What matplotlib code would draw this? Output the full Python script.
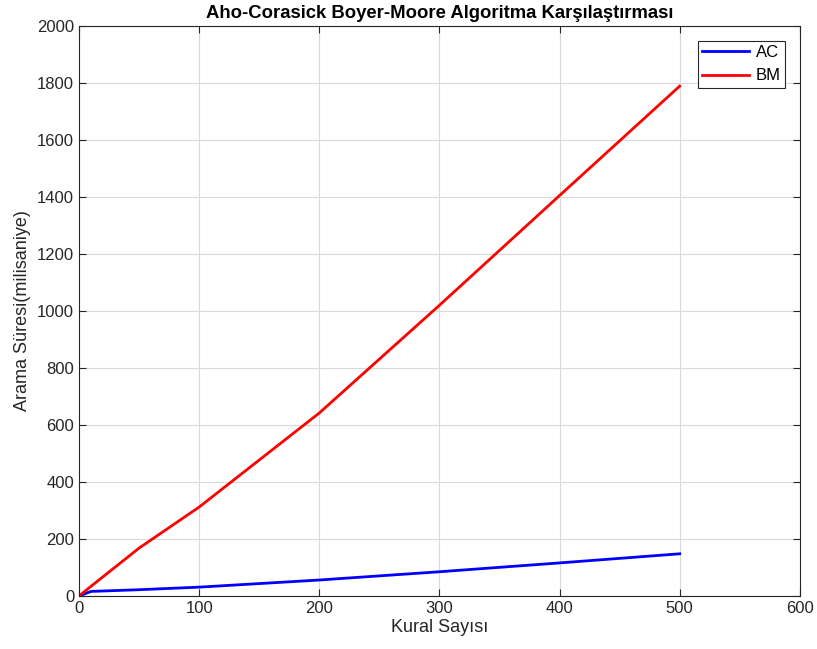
import numpy as np
import matplotlib.pyplot as plt

plt.rcParams['font.family'] = ['Liberation Sans', 'DejaVu Sans']

kural = [0, 10, 50, 100, 200, 300, 400, 500]
ac = [0, 16, 22, 31, 56, 85, 116, 148]
bm = [0, 34, 168, 312, 642, 1020, 1405, 1789]

fig = plt.figure(figsize=(8.17, 6.49), dpi=100)
ax = fig.add_axes([0.0967, 0.0817, 0.8823, 0.8783])

ax.plot(kural, ac, color='blue', linewidth=2, label='AC')
ax.plot(kural, bm, color='red', linewidth=2, label='BM')

ax.set_xlim(0, 600)
ax.set_ylim(0, 2000)
ax.set_xticks(np.arange(0, 601, 100))
ax.set_yticks(np.arange(0, 2001, 200))
ax.grid(True, color='#d9d9d9', linewidth=0.8)
ax.set_axisbelow(True)
ax.tick_params(direction='in', top=True, right=True, labelsize=12, colors='#262626', length=5)
for s in ax.spines.values():
    s.set_color('#262626')
    s.set_linewidth(0.8)

ax.set_xlabel('Kural Sayısı', fontsize=13, color='#262626', labelpad=2)
ax.set_ylabel('Arama Süresi(milisaniye)', fontsize=13, color='#262626', labelpad=4)
ax.set_title('Aho-Corasick Boyer-Moore Algoritma Karşılaştırması', fontsize=13.3, fontweight='bold', pad=6)

leg = ax.legend(loc='upper right', fontsize=12, fancybox=False, framealpha=1,
                edgecolor='#262626', handlelength=2.8, handletextpad=0.4,
                borderaxespad=0.9, borderpad=0.25, labelspacing=0.5)
leg.get_frame().set_linewidth(0.8)

fig.savefig('out.png', dpi=100)
